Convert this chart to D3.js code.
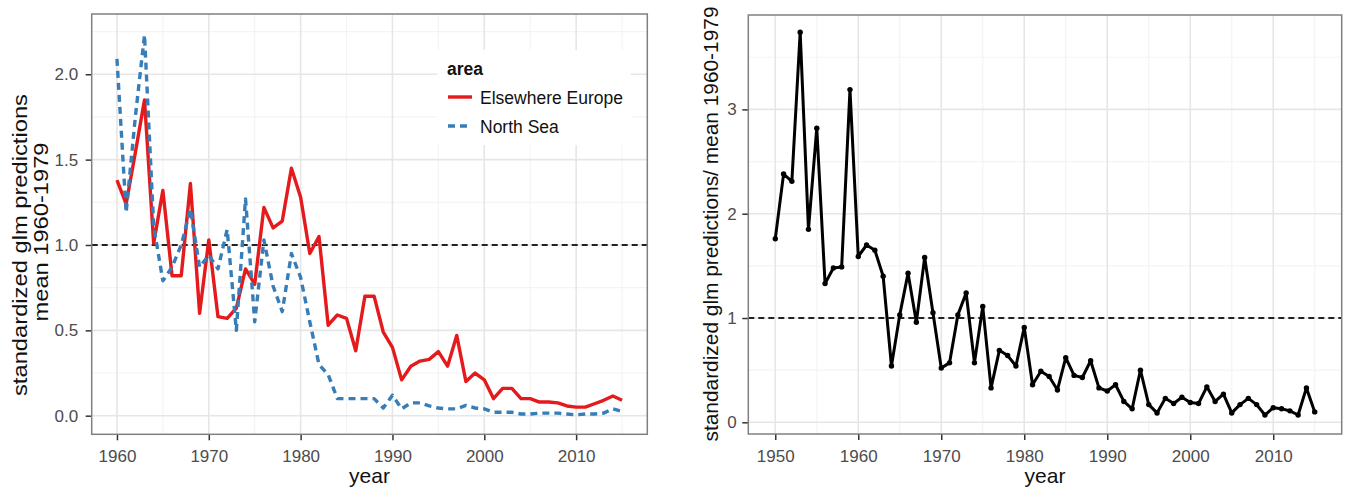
<!DOCTYPE html>
<html>
<head>
<meta charset="utf-8">
<script src="https://cdn.jsdelivr.net/npm/d3@7"></script>
<style>
  body { margin: 0; background: #fff; }
  svg { font-family: "Liberation Sans", Arial, sans-serif; display: block; }
</style>
</head>
<body>
<div id="chart"></div>
<script>
// ---- data ----
const yearsLeft = [1960, 1961, 1962, 1963, 1964, 1965, 1966, 1967, 1968, 1969,
    1970, 1971, 1972, 1973, 1974, 1975, 1976, 1977, 1978, 1979,
    1980, 1981, 1982, 1983, 1984, 1985, 1986, 1987, 1988, 1989,
    1990, 1991, 1992, 1993, 1994, 1995, 1996, 1997, 1998, 1999,
    2000, 2001, 2002, 2003, 2004, 2005, 2006, 2007, 2008, 2009,
    2010, 2011, 2012, 2013, 2014, 2015];

const elsewhereEurope = [1.38, 1.24, 1.54, 1.85, 1.01, 1.32, 0.82, 0.82, 1.36, 0.60,
    1.03, 0.58, 0.57, 0.63, 0.86, 0.77, 1.22, 1.10, 1.14, 1.45,
    1.28, 0.95, 1.05, 0.53, 0.59, 0.57, 0.38, 0.70, 0.70, 0.49,
    0.40, 0.21, 0.29, 0.32, 0.33, 0.375, 0.29, 0.47, 0.20, 0.25,
    0.21, 0.10, 0.16, 0.16, 0.10, 0.10, 0.08, 0.08, 0.075, 0.057,
    0.05, 0.05, 0.07, 0.09, 0.115, 0.09];

const northSea = [2.09, 1.19, 1.75, 2.23, 1.11, 0.79, 0.87, 1.00, 1.21, 0.87,
    0.94, 0.86, 1.09, 0.50, 1.27, 0.55, 1.03, 0.76, 0.61, 0.95,
    0.81, 0.55, 0.30, 0.24, 0.10, 0.10, 0.10, 0.10, 0.10, 0.045,
    0.12, 0.04, 0.075, 0.075, 0.057, 0.045, 0.04, 0.04, 0.06, 0.045,
    0.04, 0.02, 0.02, 0.02, 0.01, 0.01, 0.015, 0.015, 0.015, 0.01,
    0.005, 0.01, 0.01, 0.015, 0.04, 0.025];

const yearsRight = [1950, 1951, 1952, 1953, 1954, 1955, 1956, 1957, 1958, 1959,
    1960, 1961, 1962, 1963, 1964, 1965, 1966, 1967, 1968, 1969,
    1970, 1971, 1972, 1973, 1974, 1975, 1976, 1977, 1978, 1979,
    1980, 1981, 1982, 1983, 1984, 1985, 1986, 1987, 1988, 1989,
    1990, 1991, 1992, 1993, 1994, 1995, 1996, 1997, 1998, 1999,
    2000, 2001, 2002, 2003, 2004, 2005, 2006, 2007, 2008, 2009,
    2010, 2011, 2012, 2013, 2014, 2015];

const ratioValues = [1.76, 2.38, 2.31, 3.74, 1.85, 2.82, 1.33, 1.48, 1.49, 3.19,
    1.59, 1.70, 1.65, 1.40, 0.54, 1.03, 1.43, 0.96, 1.58, 1.05,
    0.52, 0.57, 1.03, 1.24, 0.57, 1.11, 0.33, 0.69, 0.64, 0.54,
    0.91, 0.36, 0.49, 0.44, 0.31, 0.62, 0.45, 0.43, 0.59, 0.33,
    0.30, 0.36, 0.20, 0.13, 0.50, 0.17, 0.09, 0.23, 0.18, 0.24,
    0.19, 0.18, 0.34, 0.20, 0.27, 0.09, 0.17, 0.23, 0.17, 0.07,
    0.14, 0.13, 0.11, 0.07, 0.33, 0.10];

const areaNames = ["Elsewhere Europe", "North Sea"];
const areaColors = ["#e41a1c", "#377eb8"];
const areaDash = [null, "7,5"];

const leftXTicks = [1960, 1970, 1980, 1990, 2000, 2010];
const leftXMinor = [1965, 1975, 1985, 1995, 2005, 2015];
const leftYTicks = [0, 0.5, 1, 1.5, 2];
const leftYMinor = [0.25, 0.75, 1.25, 1.75, 2.25];
const rightXTicks = [1950, 1960, 1970, 1980, 1990, 2000, 2010];
const rightXMinor = [1955, 1965, 1975, 1985, 1995, 2005, 2015];
const rightYTicks = [0, 1, 2, 3];
const rightYMinor = [0.5, 1.5, 2.5, 3.5];
const referenceLevel = 1;

// ---- drawing ----
const W = 1345, H = 488;
const svg = d3.select("#chart").append("svg")
    .attr("width", W)
    .attr("height", H);

function drawPanel(p) {
    const x = d3.scaleLinear().domain(p.xDomain).range([p.left, p.right]);
    const y = d3.scaleLinear().domain(p.yDomain).range([p.bottom, p.top]);
    const g = svg.append("g");

    g.append("rect")
        .attr("x", p.left).attr("y", p.top)
        .attr("width", p.right - p.left).attr("height", p.bottom - p.top)
        .attr("fill", "#fff");

    // minor grid
    g.selectAll(".mx").data(p.xMinor).join("line")
        .attr("x1", d => x(d)).attr("x2", d => x(d))
        .attr("y1", p.top).attr("y2", p.bottom)
        .attr("stroke", "#f4f4f4").attr("stroke-width", 1.2);
    g.selectAll(".my").data(p.yMinor).join("line")
        .attr("y1", d => y(d)).attr("y2", d => y(d))
        .attr("x1", p.left).attr("x2", p.right)
        .attr("stroke", "#f4f4f4").attr("stroke-width", 1.2);
    // major grid
    g.selectAll(".gx").data(p.xTicks).join("line")
        .attr("x1", d => x(d)).attr("x2", d => x(d))
        .attr("y1", p.top).attr("y2", p.bottom)
        .attr("stroke", "#e6e6e6").attr("stroke-width", 1.6);
    g.selectAll(".gy").data(p.yTicks).join("line")
        .attr("y1", d => y(d)).attr("y2", d => y(d))
        .attr("x1", p.left).attr("x2", p.right)
        .attr("stroke", "#e6e6e6").attr("stroke-width", 1.6);

    // axes
    const xAxis = g.append("g")
        .attr("transform", `translate(0,${p.bottom})`)
        .call(d3.axisBottom(x).tickValues(p.xTicks).tickSize(6).tickPadding(9.5).tickFormat(d3.format("d")));
    const yAxis = g.append("g")
        .attr("transform", `translate(${p.left},0)`)
        .call(d3.axisLeft(y).tickValues(p.yTicks).tickSize(6).tickPadding(p.yPad).tickFormat(p.yFormat));
    [xAxis, yAxis].forEach(a => {
        a.select(".domain").remove();
        a.selectAll(".tick line").attr("stroke", "#333").attr("stroke-width", 1.5);
        a.selectAll(".tick text")
            .attr("fill", "#4d4d4d")
            .style("font-size", "17px")
            .style("font-family", "'Liberation Sans', Arial, sans-serif");
    });

    // reference line
    g.append("line")
        .attr("x1", p.left).attr("x2", p.right)
        .attr("y1", y(referenceLevel)).attr("y2", y(referenceLevel))
        .attr("stroke", "#222").attr("stroke-width", 2)
        .attr("stroke-dasharray", "6,4");

    // x title
    g.append("text")
        .attr("x", (p.left + p.right) / 2).attr("y", 483)
        .attr("text-anchor", "middle")
        .style("font-size", "21px")
        .attr("fill", "#111")
        .text("year");

    return { g, x, y };
}

// left panel
const L = drawPanel({
    left: 91.7, right: 647.3, top: 14, bottom: 434.3,
    xDomain: [1957.25, 2017.75], yDomain: [-0.109, 2.353],
    xTicks: leftXTicks, xMinor: leftXMinor,
    yTicks: leftYTicks, yMinor: leftYMinor,
    yFormat: d3.format(".1f"), yPad: 7.5
});

const leftLine = d3.line().x((d, i) => L.x(yearsLeft[i])).y(d => L.y(d));
[elsewhereEurope, northSea].forEach((series, k) => {
    L.g.append("path")
        .datum(series)
        .attr("d", leftLine)
        .attr("fill", "none")
        .attr("stroke", areaColors[k])
        .attr("stroke-width", 3.4)
        .attr("stroke-linejoin", "round")
        .attr("stroke-dasharray", areaDash[k]);
});

// legend
const legend = L.g.append("g");
legend.append("rect")
    .attr("x", 437).attr("y", 50).attr("width", 194).attr("height", 95)
    .attr("fill", "#fff");
legend.append("text")
    .attr("x", 447).attr("y", 75)
    .style("font-size", "17.5px").style("font-weight", "bold")
    .attr("fill", "#111")
    .text("area");
areaNames.forEach((name, k) => {
    const cy = 97 + k * 29;
    legend.append("line")
        .attr("x1", 448).attr("x2", 472).attr("y1", cy).attr("y2", cy)
        .attr("stroke", areaColors[k]).attr("stroke-width", 3.4)
        .attr("stroke-dasharray", areaDash[k]);
    legend.append("text")
        .attr("x", 480).attr("y", cy + 6.5)
        .style("font-size", "17.5px")
        .attr("fill", "#111")
        .text(name);
});

// left y title (two lines)
L.g.append("text")
    .attr("transform", "translate(26.7,245) rotate(-90)")
    .attr("text-anchor", "middle")
    .attr("textLength", 302).attr("lengthAdjust", "spacingAndGlyphs")
    .style("font-size", "20px").attr("fill", "#111")
    .text("standardized glm predictions");
L.g.append("text")
    .attr("transform", "translate(48.3,232) rotate(-90)")
    .attr("text-anchor", "middle")
    .attr("textLength", 179).attr("lengthAdjust", "spacingAndGlyphs")
    .style("font-size", "20px").attr("fill", "#111")
    .text("mean 1960-1979");

L.g.append("rect")
    .attr("x", 91.7).attr("y", 14).attr("width", 647.3 - 91.7).attr("height", 434.3 - 14)
    .attr("fill", "none").attr("stroke", "#808080").attr("stroke-width", 1.5);

// right panel
const R = drawPanel({
    left: 748.3, right: 1341.7, top: 15, bottom: 434,
    xDomain: [1946.75, 2018.25], yDomain: [-0.112, 3.905],
    xTicks: rightXTicks, xMinor: rightXMinor,
    yTicks: rightYTicks, yMinor: rightYMinor,
    yFormat: d3.format("d"), yPad: 5.5
});

const rightLine = d3.line().x((d, i) => R.x(yearsRight[i])).y(d => R.y(d));
R.g.append("path")
    .datum(ratioValues)
    .attr("d", rightLine)
    .attr("fill", "none")
    .attr("stroke", "#000")
    .attr("stroke-width", 3)
    .attr("stroke-linejoin", "round");
R.g.selectAll(".pt").data(ratioValues).join("circle")
    .attr("cx", (d, i) => R.x(yearsRight[i]))
    .attr("cy", d => R.y(d))
    .attr("r", 2.7)
    .attr("fill", "#000");

R.g.append("text")
    .attr("transform", "translate(718,224) rotate(-90)")
    .attr("text-anchor", "middle")
    .attr("textLength", 435).attr("lengthAdjust", "spacingAndGlyphs")
    .style("font-size", "19.5px").attr("fill", "#111")
    .text("standardized glm predictions/ mean 1960-1979");

R.g.append("rect")
    .attr("x", 748.3).attr("y", 15).attr("width", 1341.7 - 748.3).attr("height", 434 - 15)
    .attr("fill", "none").attr("stroke", "#808080").attr("stroke-width", 1.5);
</script>
</body>
</html>
